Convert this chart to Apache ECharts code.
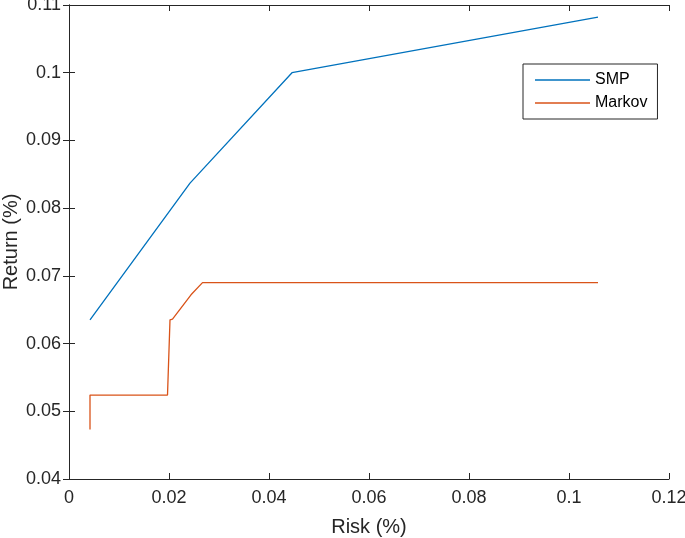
<!DOCTYPE html>
<html>
<head>
<meta charset="utf-8">
<script src="https://cdn.jsdelivr.net/npm/echarts@6/dist/echarts.min.js"></script>
<style>html,body{margin:0;padding:0;background:#fff;}#c{width:685px;height:538px;}</style>
</head>
<body>
<div id="c"></div>
<script>
var xTicks = [0, 0.02, 0.04, 0.06, 0.08, 0.1, 0.12];
var yTicks = [0.04, 0.05, 0.06, 0.07, 0.08, 0.09, 0.1, 0.11];
var smpRisk = [0.0042, 0.0242, 0.0446, 0.1058];
var smpReturn = [0.0635, 0.0837, 0.1000, 0.1082];
var markovRisk = [0.0042, 0.0042, 0.0197, 0.0202, 0.0207, 0.0244, 0.0267, 0.1058];
var markovReturn = [0.0473, 0.0524, 0.0524, 0.0635, 0.0636, 0.0672, 0.0690, 0.0690];

function pairs(xs, ys) { return xs.map(function (x, i) { return [x, ys[i]]; }); }
function fmt(v) { return String(+v.toFixed(2)); }

var font = 'Liberation Sans, Arial, Helvetica, sans-serif';
var axisColor = '#262626';
var chart = echarts.init(document.getElementById('c'));
var baseAxis = {
  type: 'value',
  axisLine: { show: true, lineStyle: { color: axisColor, width: 1 } },
  axisTick: { show: true, inside: true, length: 6, lineStyle: { color: axisColor } },
  splitLine: { show: false },
  axisLabel: { color: axisColor, fontSize: 18, fontFamily: font, formatter: fmt }
};
chart.setOption({
  animation: false,
  backgroundColor: '#fff',
  grid: { left: 69, right: 16, top: 5, bottom: 59, containLabel: false, outerBoundsMode: 'none' },
  xAxis: [
    Object.assign({}, baseAxis, {
      min: xTicks[0], max: xTicks[xTicks.length - 1], interval: 0.02, position: 'bottom',
      name: 'Risk (%)', nameLocation: 'middle', nameGap: 38, nameMoveOverlap: false,
      nameTextStyle: { color: axisColor, fontSize: 20, fontFamily: font },
      axisLabel: Object.assign({}, baseAxis.axisLabel, { margin: 10 })
    }),
    Object.assign({}, baseAxis, {
      min: xTicks[0], max: xTicks[xTicks.length - 1], interval: 0.02, position: 'top',
      axisLabel: { show: false }
    })
  ],
  yAxis: [
    Object.assign({}, baseAxis, {
      min: yTicks[0], max: yTicks[yTicks.length - 1], interval: 0.01, position: 'left',
      name: 'Return (%)', nameLocation: 'middle', nameGap: 48, nameMoveOverlap: false,
      nameTextStyle: { color: axisColor, fontSize: 20, fontFamily: font },
      axisLabel: Object.assign({}, baseAxis.axisLabel, { margin: 8 })
    }),
    Object.assign({}, baseAxis, {
      min: yTicks[0], max: yTicks[yTicks.length - 1], interval: 0.01, position: 'right',
      axisLabel: { show: false }
    })
  ],
  legend: {
    orient: 'vertical', left: 523, top: 64,
    borderColor: axisColor, borderWidth: 1, borderRadius: 0,
    padding: [8, 10, 8, 12], itemGap: 7, itemWidth: 55, itemHeight: 1.5,
    icon: 'rect',
    textStyle: { color: '#000', fontSize: 16, fontFamily: font, lineHeight: 16 },
    data: ['SMP', 'Markov']
  },
  series: [
    { name: 'SMP', type: 'line', data: pairs(smpRisk, smpReturn), symbol: 'none',
      lineStyle: { color: '#0072BD', width: 1.3 }, itemStyle: { color: '#0072BD' } },
    { name: 'Markov', type: 'line', data: pairs(markovRisk, markovReturn), symbol: 'none',
      lineStyle: { color: '#D95319', width: 1.3 }, itemStyle: { color: '#D95319' } }
  ]
});
</script>
</body>
</html>
